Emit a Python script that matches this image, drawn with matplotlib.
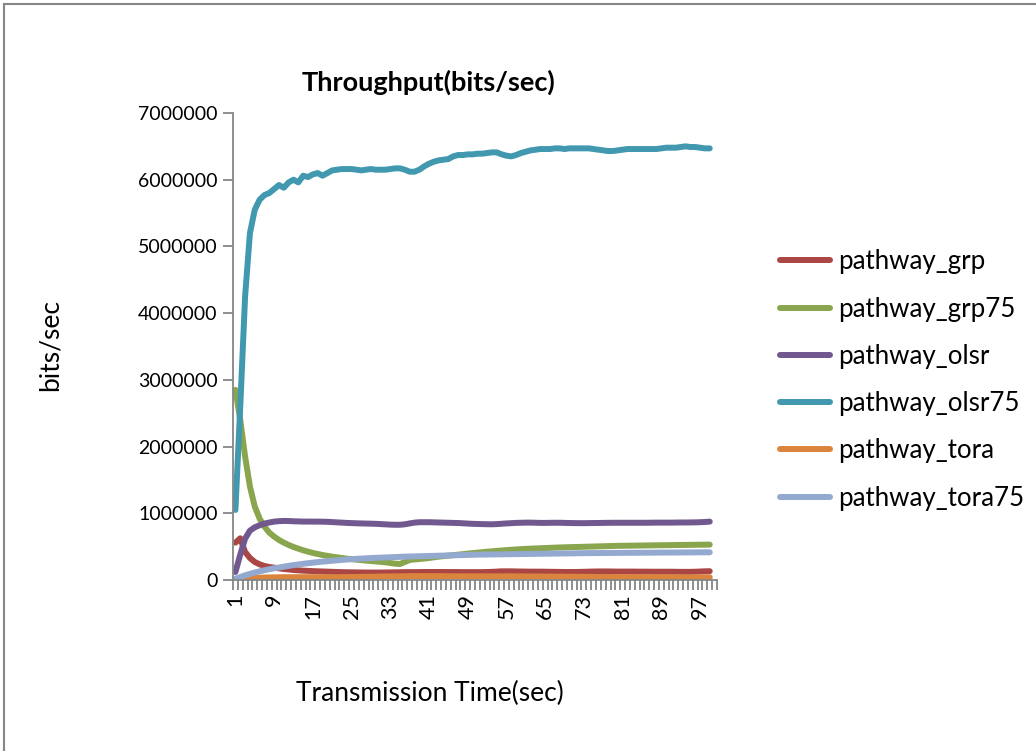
import numpy as np
import matplotlib
matplotlib.use("Agg")
import matplotlib.pyplot as plt
from matplotlib.patches import Rectangle

plt.rcParams['font.family'] = ['Lato', 'DejaVu Sans']

# Simulation time slots (categories on the x axis)
time_slots = list(range(1, 101))
tick_labels = [str(t) for t in range(1, 101, 8)]

# Throughput per protocol, bits/sec (one sample per second)
pathway_grp = [
    560000, 625000, 420000, 330000, 270000, 235000, 210000, 195000, 185000, 175000,
    165000, 158000, 150000, 145000, 140000, 137000, 133000, 130000, 127000, 125000,
    122000, 120000, 118000, 116000, 115000, 114000, 113000, 112000, 112000, 112000,
    112000, 113000, 114000, 115000, 116000, 118000, 118000, 118000, 119000, 120000,
    120000, 120000, 120000, 120000, 119000, 119000, 119000, 118000, 118000, 118000,
    118000, 118000, 120000, 122000, 126000, 130000, 130000, 130000, 128000, 127000,
    126000, 125000, 125000, 125000, 124000, 123000, 122000, 121000, 120000, 120000,
    120000, 121000, 123000, 125000, 127000, 128000, 128000, 128000, 127000, 126000,
    126000, 126000, 126000, 125000, 125000, 125000, 124000, 124000, 124000, 124000,
    124000, 123000, 122000, 122000, 122000, 124000, 127000, 130000, 132000,
]
pathway_grp75 = [
    2850000, 2400000, 1850000, 1400000, 1100000, 920000, 800000, 710000, 650000, 600000,
    560000, 525000, 495000, 470000, 445000, 425000, 405000, 390000, 375000, 362000,
    350000, 340000, 330000, 320000, 312000, 305000, 298000, 291000, 285000, 278000,
    272000, 265000, 255000, 245000, 240000, 270000, 300000, 308000, 315000, 322000,
    330000, 340000, 350000, 358000, 365000, 372000, 380000, 388000, 396000, 403000,
    410000, 417000, 424000, 430000, 436000, 442000, 448000, 453000, 458000, 463000,
    467000, 470000, 473000, 476000, 479000, 482000, 485000, 488000, 490000, 492000,
    494000, 496000, 498000, 500000, 502000, 504000, 506000, 508000, 510000, 512000,
    513000, 514000, 515000, 516000, 517000, 518000, 519000, 520000, 521000, 522000,
    523000, 524000, 525000, 526000, 527000, 528000, 529000, 530000, 530000,
]
pathway_olsr = [
    120000, 380000, 620000, 740000, 790000, 820000, 845000, 862000, 875000, 882000,
    885000, 884000, 880000, 878000, 876000, 876000, 875000, 875000, 874000, 872000,
    868000, 864000, 860000, 856000, 853000, 850000, 848000, 846000, 844000, 842000,
    838000, 834000, 830000, 828000, 828000, 835000, 848000, 860000, 866000, 866000,
    866000, 864000, 862000, 860000, 858000, 856000, 854000, 850000, 846000, 842000,
    840000, 838000, 836000, 835000, 838000, 843000, 848000, 852000, 856000, 858000,
    860000, 860000, 858000, 856000, 856000, 857000, 858000, 858000, 856000, 854000,
    853000, 852000, 852000, 853000, 854000, 855000, 856000, 857000, 858000, 858000,
    858000, 858000, 858000, 858000, 858000, 858000, 859000, 860000, 860000, 860000,
    860000, 861000, 862000, 862000, 863000, 864000, 866000, 870000, 875000,
]
pathway_olsr75 = [
    1050000, 2600000, 4250000, 5200000, 5550000, 5700000, 5770000, 5800000, 5860000, 5920000,
    5880000, 5960000, 6000000, 5960000, 6060000, 6040000, 6080000, 6100000, 6060000, 6100000,
    6140000, 6150000, 6160000, 6160000, 6160000, 6150000, 6140000, 6150000, 6160000, 6150000,
    6150000, 6150000, 6160000, 6170000, 6170000, 6150000, 6120000, 6120000, 6150000, 6200000,
    6240000, 6270000, 6290000, 6300000, 6310000, 6350000, 6370000, 6370000, 6380000, 6380000,
    6390000, 6390000, 6400000, 6410000, 6410000, 6380000, 6360000, 6350000, 6370000, 6400000,
    6420000, 6440000, 6450000, 6460000, 6460000, 6460000, 6470000, 6470000, 6460000, 6470000,
    6470000, 6470000, 6470000, 6470000, 6460000, 6450000, 6440000, 6430000, 6430000, 6440000,
    6450000, 6460000, 6460000, 6460000, 6460000, 6460000, 6460000, 6460000, 6470000, 6480000,
    6480000, 6480000, 6490000, 6500000, 6490000, 6490000, 6480000, 6470000, 6470000,
]
pathway_tora = [
    0, 8000, 16000, 24000, 30000, 34000, 37000, 39000, 40000, 41000,
    42000, 42000, 42000, 42000, 42000, 42000, 42000, 42000, 42000, 42000,
    42000, 42000, 43000, 44000, 45000, 46000, 47000, 48000, 49000, 50000,
    51000, 52000, 53000, 54000, 55000, 56000, 57000, 58000, 58000, 58000,
    58000, 58000, 57000, 57000, 56000, 56000, 55000, 55000, 55000, 55000,
    55000, 55000, 55000, 55000, 55000, 55000, 55000, 55000, 54000, 54000,
    53000, 53000, 52000, 52000, 51000, 51000, 50000, 50000, 49000, 49000,
    48000, 48000, 47000, 47000, 46000, 46000, 45000, 45000, 45000, 44000,
    44000, 44000, 43000, 43000, 43000, 42000, 42000, 42000, 42000, 41000,
    41000, 41000, 41000, 40000, 40000, 40000, 40000, 40000, 40000,
]
pathway_tora75 = [
    20000, 45000, 70000, 92000, 112000, 130000, 146000, 161000, 175000, 188000,
    200000, 212000, 223000, 233000, 243000, 252000, 260000, 268000, 275000, 282000,
    289000, 295000, 301000, 307000, 312000, 317000, 321000, 325000, 329000, 332000,
    335000, 338000, 341000, 344000, 347000, 350000, 352000, 354000, 356000, 358000,
    360000, 362000, 364000, 366000, 368000, 370000, 372000, 374000, 376000, 378000,
    380000, 381000, 382000, 383000, 384000, 385000, 386000, 387000, 388000, 389000,
    390000, 391000, 392000, 393000, 394000, 395000, 396000, 397000, 398000, 399000,
    400000, 401000, 402000, 403000, 404000, 404000, 405000, 405000, 406000, 406000,
    407000, 407000, 408000, 408000, 409000, 409000, 410000, 410000, 411000, 411000,
    412000, 412000, 413000, 413000, 414000, 414000, 415000, 415000, 415000,
]

series = [
    ("pathway_grp", pathway_grp, "#AA4643"),
    ("pathway_grp75", pathway_grp75, "#89A54E"),
    ("pathway_olsr", pathway_olsr, "#71588F"),
    ("pathway_olsr75", pathway_olsr75, "#4198AF"),
    ("pathway_tora", pathway_tora, "#DB843D"),
    ("pathway_tora75", pathway_tora75, "#93A9CF"),
]

W, H = 1036, 751
fig = plt.figure(figsize=(W / 100, H / 100), dpi=100)
fig.patch.set_facecolor("white")

# chart-area border (runs off the right and bottom of the canvas)
fig.patches.append(Rectangle((4 / W, -0.1), 1.2, 1 - 4 / H + 0.1,
                             transform=fig.transFigure, fill=False,
                             edgecolor="#868686", linewidth=1.5))

ax = fig.add_axes([233 / W, 1 - 580 / H, 484 / W, 467 / H])
for name, vals, color in series:
    x = time_slots[:len(vals)]
    ax.plot(x, vals, color=color, linewidth=4.3, solid_capstyle="round",
            solid_joinstyle="round", label=name)

ax.set_xlim(0.5, len(time_slots) + 0.5)
ax.set_ylim(0, 7000000)
ax.set_yticks(np.arange(0, 7000001, 1000000))
ax.set_yticklabels([f"{int(v)}" for v in np.arange(0, 7000001, 1000000)])

ax.set_xticks(list(range(1, 101, 8)))
ax.set_xticklabels(tick_labels, rotation=90)
ax.set_xticks(np.arange(0.5, len(time_slots) + 1, 1.0), minor=True)

for s in ("top", "right"):
    ax.spines[s].set_visible(False)
for s in ("left", "bottom"):
    ax.spines[s].set_color("#868686")
    ax.spines[s].set_linewidth(1.3)

ax.tick_params(axis="y", direction="out", length=7, width=1.3, color="#868686",
               labelsize=14.0, pad=4)
ax.tick_params(axis="x", which="major", length=0, labelsize=15.5, pad=10)
ax.tick_params(axis="x", which="minor", direction="out", length=7, width=1.3,
               color="#868686")

fig.text(428 / W, 1 - 82 / H, "Throughput(bits/sec)", ha="center", va="center",
         fontsize=19.5, fontweight="bold")
fig.text(430 / W, 1 - 693 / H, "Transmission Time(sec)", ha="center", va="center",
         fontsize=19)
fig.text(50 / W, 1 - 345 / H, "bits/sec", ha="center", va="center",
         rotation=90, fontsize=19)

leg = fig.legend(loc="center left", bbox_to_anchor=(780 / W, 1 - 380 / H),
                 frameon=False, fontsize=18.6, handlelength=1.95, handletextpad=0.3,
                 labelspacing=0.86, borderpad=0, borderaxespad=0)
for line in leg.get_lines():
    line.set_linewidth(4.3)

fig.savefig("out.png", dpi=100)
